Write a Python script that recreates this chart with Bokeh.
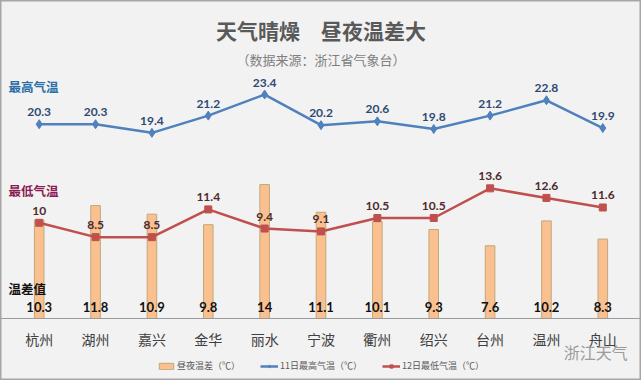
from bokeh.plotting import figure
from bokeh.models import ColumnDataSource, Label, Legend, LegendItem, Range1d, FactorRange, Span
from bokeh.embed import file_html
from bokeh.resources import INLINE
from bokeh.core.properties import value

cities = ["杭州", "湖州", "嘉兴", "金华", "丽水", "宁波", "衢州", "绍兴", "台州", "温州", "舟山"]
high = [20.3, 20.3, 19.4, 21.2, 23.4, 20.2, 20.6, 19.8, 21.2, 22.8, 19.9]
low = [10, 8.5, 8.5, 11.4, 9.4, 9.1, 10.5, 10.5, 13.6, 12.6, 11.6]
diff = [10.3, 11.8, 10.9, 9.8, 14, 11.1, 10.1, 9.3, 7.6, 10.2, 8.3]

high_lbl = [f"{v:g}" for v in high]
low_lbl = [f"{v:g}" for v in low]
diff_lbl = [f"{v:g}" for v in diff]

src = ColumnDataSource(dict(city=cities, high=high, low=low, diff=diff,
                            high_lbl=high_lbl, low_lbl=low_lbl, diff_lbl=diff_lbl))

BG = "#f2f2f2"
CJK = "Noto Sans CJK SC"
NUM = "Lato"

xr = FactorRange(factors=cities, range_padding=0.1866, range_padding_units="absolute")
p = figure(x_range=xr, y_range=Range1d(-6.479, 33.229), width=641, height=380,
           output_backend="svg", toolbar_location=None,
           min_border_left=0, min_border_right=0, min_border_top=0, min_border_bottom=0)
p.background_fill_color = BG
p.border_fill_color = BG
p.outline_line_color = "#a6a6a6"
p.outline_line_width = 2
p.xgrid.visible = False
p.ygrid.visible = False
p.xaxis.visible = False
p.yaxis.visible = False

# category baseline and category names
p.add_layout(Span(location=0, dimension="width", line_color="#9a9a9a", line_width=1))
p.text(x="city", y=0, text="city", source=src, text_align="center",
       text_baseline="middle", y_offset=21, text_font=value(CJK),
       text_font_size="14px", text_color="#404040")

bars = p.vbar(x="city", top="diff", width=0.17, source=src,
              fill_color="#fac090", line_color="#c0a878", line_width=1)

hl = p.line(x="city", y="high", source=src, line_color="#4f81bd", line_width=2.5)
hs = p.scatter(x="city", y="high", source=src, marker="diamond", size=9,
               fill_color="#4f81bd", line_color="#4f81bd")
ll = p.line(x="city", y="low", source=src, line_color="#c0504d", line_width=2.5)
ls = p.scatter(x="city", y="low", source=src, marker="square", size=7,
               fill_color="#c0504d", line_color="#c0504d")

p.text(x="city", y="high", text="high_lbl", source=src, text_align="center",
       text_baseline="bottom", y_offset=-8, text_font=value(NUM),
       text_font_style="bold", text_font_size="12px", text_color="#2f4a72")
p.text(x="city", y="low", text="low_lbl", source=src, text_align="center",
       text_baseline="bottom", y_offset=-8, text_font=value(NUM),
       text_font_style="bold", text_font_size="12px", text_color="#4e2a2a")
p.text(x="city", y=0, text="diff_lbl", source=src, text_align="center",
       text_baseline="middle", y_offset=-11, text_font=value(NUM),
       text_font_style="bold", text_font_size="13px", text_color="#111111")

# titles and side captions
p.add_layout(Label(x=5.5, y=30.1, text="天气晴燥　昼夜温差大", text_align="center",
                   text_baseline="middle", text_font=CJK, text_font_style="bold",
                   text_font_size="21px", text_color="#595959"))
p.add_layout(Label(x=5.5, y=27.1, text="（数据来源：浙江省气象台）", text_align="center",
                   text_baseline="middle", text_font=CJK,
                   text_font_size="13px", text_color="#7f7f7f"))
p.add_layout(Label(x=0, y=24.24, x_offset=-2.5, text="最高气温", text_align="left",
                   text_baseline="middle", text_font=CJK, text_font_style="bold",
                   text_font_size="12.5px", text_color="#2a6ea8"))
p.add_layout(Label(x=0, y=13.4, x_offset=-2.5, text="最低气温", text_align="left",
                   text_baseline="middle", text_font=CJK, text_font_style="bold",
                   text_font_size="12.5px", text_color="#8b1a52"))
p.add_layout(Label(x=0, y=3.13, x_offset=-2.5, text="温差值", text_align="left",
                   text_baseline="middle", text_font=CJK, text_font_style="bold",
                   text_font_size="12.5px", text_color="#111111"))
p.add_layout(Label(x=10.5, y=-3.55, x_offset=-39, text="浙江天气", text_align="left",
                   text_baseline="middle", text_font=CJK,
                   text_font_size="16px", text_color="#9c9c9c"))

legend = Legend(items=[
    LegendItem(label="昼夜温差（℃）", renderers=[bars]),
    LegendItem(label="11日最高气温（℃）", renderers=[hl, hs]),
    LegendItem(label="12日最低气温（℃）", renderers=[ll, ls]),
], orientation="horizontal", location=(157, 8))
legend.label_text_font = CJK
legend.label_text_font_size = "9px"
legend.label_text_color = "#595959"
legend.background_fill_alpha = 0
legend.border_line_color = None
legend.glyph_width = 18
legend.glyph_height = 8
legend.label_standoff = 2
legend.spacing = 20
legend.padding = 0
legend.margin = 0
legend.label_height = 10
p.add_layout(legend)

open("out.html", "w").write(file_html(p, INLINE))
